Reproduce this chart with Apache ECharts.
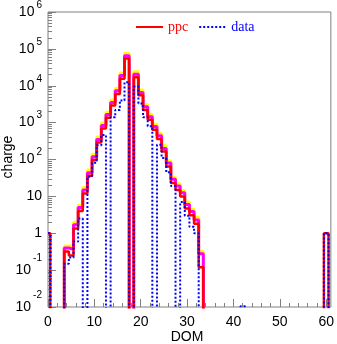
<!DOCTYPE html>
<html><head><meta charset="utf-8">
<script src="https://cdn.jsdelivr.net/npm/echarts@6/dist/echarts.min.js"></script>
<style>html,body{margin:0;padding:0;background:#fff}#c{width:337px;height:344px}</style>
</head><body><div id="c"></div>
<script>
// DOM index (bin centres)
const dom = [0,1,2,3,4,5,6,7,8,9,10,11,12,13,14,15,16,17,18,19,20,21,22,23,24,25,26,27,28,29,30,
  31,32,33,34,35,36,37,38,39,40,41,42,43,44,45,46,47,48,49,50,51,52,53,54,55,56,57,58,59,60,61];

// ppc prediction (red)
const ppc = [1,0,0,0,0.32,0.25,1.35,4.0,12,36,97,290,690,1350,2900,6000,15500,55000,0,17000,
  5500,2200,1200,640,360,165,65,23,15,10,4.7,3.1,1.8,0.12,0,0,0,0,0,0,0,0,0,0,0,0,0,0,0,0,0,0,0,0,0,0,0,0,0,0,1,0];

// ppc upper band, inner (magenta)
const ppcBand1 = [0,0,0,0,0.40,0.38,1.7,5.0,15,44,118,350,830,1650,3500,7300,19000,65000,0,20500,
  6600,2700,1450,780,440,200,80,29,19,12.5,6,3.9,2.3,0.28,0,0,0,0,0,0,0,0,0,0,0,0,0,0,0,0,0,0,0,0,0,0,0,0,0,0,0,0];

// ppc upper band, outer (yellow)
const ppcBand2 = [0,0,0,0,0.45,0.45,2.0,5.8,17.5,52,138,410,970,1900,4100,8500,22000,76000,0,24000,
  7700,3100,1700,900,510,235,92,33,22,14.5,7,4.5,2.7,0.32,0,0,0,0,0,0,0,0,0,0,0,0,0,0,0,0,0,0,0,0,0,0,0,0,0,0,0,0];

// data (blue dotted)
const data = [1,0,0,0,0.15,0.22,0.6,2.5,0,34,82,245,460,0,1400,2200,4000,12500,0,9500,
  3300,1400,800,0,250,110,45,19,0,7,3,1.5,1.0,0,0,0,0,0,0,0,0,0,0.0105,0,0,0,0,0,0,0,0,0,0,0,0,0,0,0,0,0,1,0];

// axis ticks / labels
const xTickValues = [0,10,20,30,40,50,60];
const yTickExp = [-2,-1,0,1,2,3,4,5,6];
const yTickLabels = ['10^-2','10^-1','1','10','10^2','10^3','10^4','10^5','10^6'];

const FLOOR = 1e-4; // empty bins drawn below the axis floor (clipped)
const pts = arr => dom.map((d, i) => [d, arr[i] > 0 ? arr[i] : FLOOR]);

const xMinor = [];
for (let v = 0; v <= 60; v += 2) if (xTickValues.indexOf(v) < 0) xMinor.push(v);
const yMinor = [];
for (let d = -2; d < 6; d++) for (let k = 2; k <= 9; k++) yMinor.push(d + Math.log10(k));

const AX = '#808080';
const SANS = 'Liberation Sans, Arial, sans-serif';
const SERIF = 'Liberation Serif, Times New Roman, serif';
const HIDDEN_SYM = {color: 'rgba(0,0,0,0)', borderColor: 'rgba(0,0,0,0)', borderWidth: 0, opacity: 0};

const chart = echarts.init(document.getElementById('c'), null, {renderer: 'canvas'});
chart.setOption({
  animation: false,
  backgroundColor: '#fff',
  grid: {left: 48, top: 11, width: 285, height: 296, show: true, borderColor: AX, borderWidth: 1, backgroundColor: 'transparent'},
  legend: {
    left: 130, top: 15, itemWidth: 27, itemHeight: 14, itemGap: 10, selectedMode: false,
    textStyle: {fontFamily: SERIF, fontSize: 14},
    itemStyle: HIDDEN_SYM,
    data: [
      {name: 'ppc', textStyle: {color: '#ff0000'}, itemStyle: HIDDEN_SYM},
      {name: 'data', textStyle: {color: '#0000ff'}, itemStyle: HIDDEN_SYM}
    ]
  },
  xAxis: [
    {type: 'value', min: 0, max: 61, position: 'bottom',
     axisLine: {show: false, onZero: false}, splitLine: {show: false},
     axisTick: {show: true, inside: true, length: 8, customValues: xTickValues, lineStyle: {color: AX}},
     axisLabel: {customValues: xTickValues, fontSize: 14, fontFamily: SANS, color: '#000', margin: 8}},
    {type: 'value', min: 0, max: 61, position: 'bottom',
     axisLine: {show: false, onZero: false}, splitLine: {show: false},
     axisTick: {show: true, inside: true, length: 4, customValues: xMinor, lineStyle: {color: AX}},
     axisLabel: {show: false}}
  ],
  yAxis: [
    {type: 'log', logBase: 10, min: 0.01, max: 1e6, position: 'left', show: false,
     axisLine: {show: false, onZero: false}, splitLine: {show: false}},
    {type: 'value', min: -2, max: 6, interval: 1, position: 'left',
     axisLine: {show: false, onZero: false}, splitLine: {show: false},
     axisTick: {show: true, inside: true, length: 8, lineStyle: {color: AX}},
     axisLabel: {
       margin: 6,
       formatter: function (v) {
         const i = yTickExp.indexOf(Math.round(v));
         if (i < 0) return '';
         const lab = yTickLabels[i];
         if (lab.indexOf('^') < 0) return '{b|' + lab + '}';
         const parts = lab.split('^');
         return '{b|' + parts[0] + '}{' + (parts[1][0] === '-' ? 'n' : 'p') + '|' + parts[1] + '}';
       },
       rich: {
         b: {fontSize: 14, fontFamily: SANS, color: '#000'},
         p: {fontSize: 10, fontFamily: SANS, color: '#000', padding: [0, 0, 14, 2]},
         n: {fontSize: 10, fontFamily: SANS, color: '#000', padding: [0, 0, 23, 2]}
       }
     }},
    {type: 'value', min: -2, max: 6, position: 'left',
     axisLine: {show: false, onZero: false}, splitLine: {show: false},
     axisTick: {show: true, inside: true, length: 4, customValues: yMinor, lineStyle: {color: AX}},
     axisLabel: {show: false}}
  ],
  graphic: [
    {type: 'text', x: 8, y: 157, rotation: Math.PI / 2,
     style: {text: 'charge', fontSize: 14, fontFamily: SANS, fill: '#000', textAlign: 'center', textVerticalAlign: 'middle'}},
    {type: 'text', x: 187, y: 337,
     style: {text: 'DOM', fontSize: 14, fontFamily: SANS, fill: '#000', textAlign: 'center', textVerticalAlign: 'middle'}}
  ],
  series: [
    {type: 'line', name: 'ppc band 2', step: 'middle', data: pts(ppcBand2), symbol: 'none', clip: true,
     lineStyle: {color: '#ffff00', width: 3}, itemStyle: {color: '#ffff00'}, z: 2},
    {type: 'line', name: 'ppc band 1', step: 'middle', data: pts(ppcBand1), symbol: 'none', clip: true,
     lineStyle: {color: '#ff00ff', width: 3}, itemStyle: {color: '#ff00ff'}, z: 3},
    {type: 'line', name: 'ppc', step: 'middle', data: pts(ppc), symbol: 'emptyCircle', showSymbol: false, clip: true,
     lineStyle: {color: '#ff0000', width: 2.5}, itemStyle: {color: '#ff0000'}, z: 4},
    {type: 'line', name: 'data', step: 'middle', data: pts(data), symbol: 'emptyCircle', showSymbol: false, clip: true,
     lineStyle: {color: '#0000ff', width: 2, type: [2, 2]}, itemStyle: {color: '#0000ff'}, z: 5}
  ]
});
</script></body></html>
